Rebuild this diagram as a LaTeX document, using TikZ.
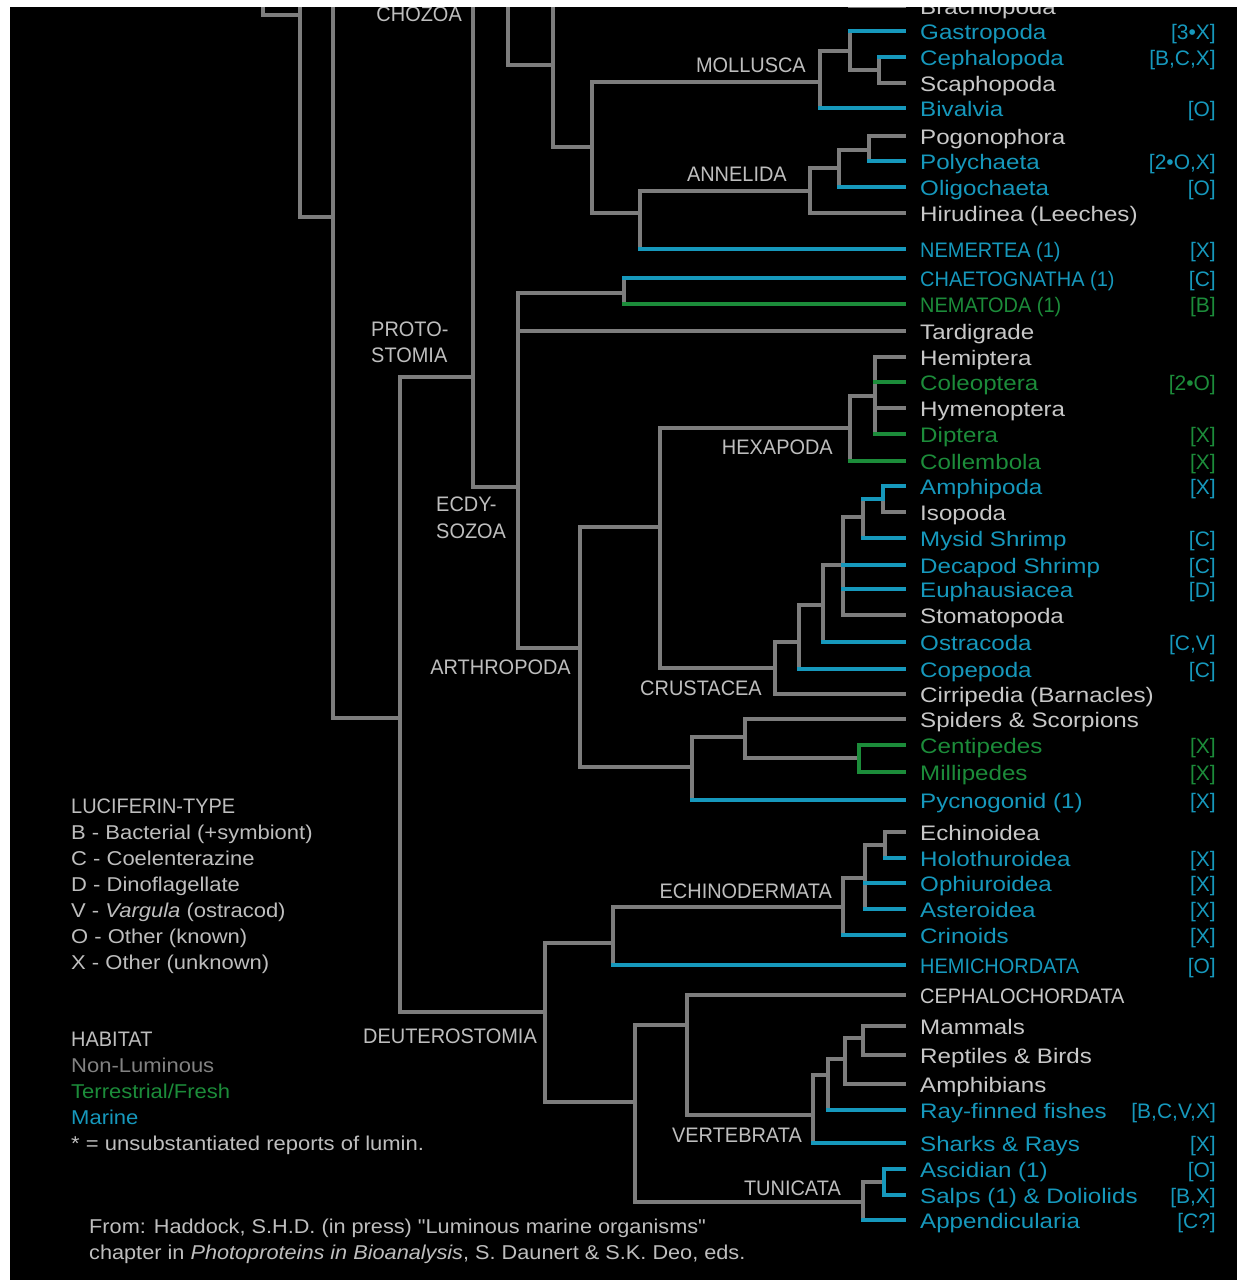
\documentclass[tikz,border=0pt]{standalone}
\usepackage{fontspec}
\setmainfont{Liberation Sans}
\newfontfamily\leaffam[FakeStretch=1.15]{Liberation Sans}
\newfontfamily\capfam[FakeStretch=0.95]{Liberation Sans}
\newfontfamily\legfam[FakeStretch=1.1]{Liberation Sans}
\newfontfamily\footfam[FakeStretch=1.085]{Liberation Sans}
\definecolor{linegray}{RGB}{125,125,125}
\definecolor{textgray}{RGB}{200,200,200}
\definecolor{cladegray}{RGB}{190,190,190}
\definecolor{marine}{RGB}{22,152,188}
\definecolor{fresh}{RGB}{28,140,58}
\definecolor{dimgray}{RGB}{130,130,130}
\newcommand\leaftxt{\leaffam\fontsize{21}{25}\selectfont}
\newcommand\captxt{\capfam\fontsize{21}{25}\selectfont}
\newcommand\legtxt{\legfam\fontsize{20}{24}\selectfont}
\newcommand\foottxt{\footfam\fontsize{20}{24}\selectfont}
\newcommand\brtxt{\rmfamily\fontsize{21}{25}\selectfont}
\tikzset{
 branch/.style={draw=linegray, line width=3.6pt, line cap=rect},
 lnG/.style={draw=linegray}, lnC/.style={draw=marine}, lnN/.style={draw=fresh},
 txG/.style={text=textgray}, txC/.style={text=marine}, txN/.style={text=fresh},
 leaflabel/.style={inner sep=0pt, anchor=base west, font=\leaftxt},
 tagtext/.style={inner sep=0pt, anchor=base east, font=\brtxt},
 clade/.style={inner sep=0pt, anchor=base east, font=\captxt, text=cladegray},
 cladew/.style={inner sep=0pt, anchor=base west, font=\captxt, text=cladegray},
 legend/.style={inner sep=0pt, anchor=base west, font=\legtxt, text=cladegray},
}
% #1 name, #2 y, #3 start x, #4 colour code, #5 text, #6 tag
\newcommand\leaf[6]{%
 \coordinate (#1s) at (#3,#2);
 \coordinate (#1e) at (904,#2);
 \draw[branch,ln#4] (#1s) -- (#1e);
 \node[leaflabel,tx#4] (#1) at (920,#2+8) {#5};
 \if\relax\detokenize{#6}\relax\else
 \node[tagtext,tx#4] (#1t) at (1216,#2+8) {#6};
 \fi
}
\begin{document}
\begin{tikzpicture}[x=1pt,y=-1pt]
\useasboundingbox (0,0) rectangle (1240,1282);
\fill[white] (0,0) rectangle (1240,1282);
\fill[black] (9.5,7) rectangle (1237,1280);
\begin{scope}
\clip (9.5,7) rectangle (1237,1280);
% ---------- internal branches
\draw[branch] (263,-10) |- (300,15);
\draw[branch] (300,-10) |- (333,217);
\draw[branch] (333,-10) |- (400,718);
\draw[branch] (473,-10) |- (518,487);
\draw[branch] (473,377) -| (400,1012) -- (545,1012);
\draw[branch] (508,-10) |- (553,65);
\draw[branch] (553,-10) |- (592,147);
% Mollusca
\draw[branch] (640,213) -| (592,82) -- (820,82);
\draw[branch] (820,51) -- (820,108);
\draw[branch] (820,51) -- (850,51);
\draw[branch] (850,31) -- (850,70) -- (879,70);
\draw[branch] (879,57) -- (879,83);
% Annelida
\draw[branch] (640,249) -- (640,191) -- (810,191);
\draw[branch] (810,168) -- (810,213);
\draw[branch] (810,168) -- (839,168);
\draw[branch] (839,150) -- (839,187);
\draw[branch] (839,150) -- (869,150);
\draw[branch] (869,136) -- (869,161);
% Ecdysozoa
\draw[branch] (624,293) -- (518,293) -- (518,648) -- (580,648);
\draw[branch] (624,278) -- (624,304);
\draw[branch] (660,527) -| (580,767) -- (692,767);
\draw[branch] (850,428) -| (660,668) -- (775,668);
% Hexapoda
\draw[branch] (850,396) -- (850,461);
\draw[branch] (850,396) -- (875,396);
\draw[branch] (875,357) -- (875,434);
% Crustacea
\draw[branch] (775,642) -- (775,694);
\draw[branch] (775,642) -- (799,642);
\draw[branch] (799,605) -- (799,669);
\draw[branch] (799,605) -- (823,605);
\draw[branch] (823,565) -- (823,642);
\draw[branch] (823,565) -- (843,565);
\draw[branch] (843,517) -- (843,615);
\draw[branch] (843,517) -- (863,517);
\draw[branch] (863,499) -- (863,538);
\draw[branch] (883,486) -- (883,512);
\draw[branch,lnC] (863,499) -- (883,499) -- (883,486);
% Chelicerata / Myriapoda
\draw[branch] (692,737) -- (692,800);
\draw[branch] (692,737) -- (745,737);
\draw[branch] (745,719) -- (745,758) -- (859,758);
\draw[branch,lnN] (859,745) -- (859,772);
% Deuterostomia
\draw[branch] (613,943) -| (545,1102) -- (635,1102);
\draw[branch] (613,907) -- (613,965);
\draw[branch] (613,907) -- (843,907);
\draw[branch] (843,878) -- (843,935);
\draw[branch] (843,878) -- (865,878);
\draw[branch] (865,845) -- (865,909);
\draw[branch] (865,845) -- (885,845);
\draw[branch] (885,832) -- (885,858);
% Chordata
\draw[branch] (635,1025) -- (635,1202) -- (863,1202);
\draw[branch] (635,1025) -- (687,1025);
\draw[branch] (687,995) -- (687,1115) -- (813,1115);
\draw[branch] (813,1075) -- (813,1143);
\draw[branch] (813,1075) -- (828,1075);
\draw[branch] (828,1059) -- (828,1110);
\draw[branch] (828,1059) -- (845,1059);
\draw[branch] (845,1038) -- (845,1084);
\draw[branch] (845,1038) -- (863,1038);
\draw[branch] (863,1026) -- (863,1055);
\draw[branch] (863,1182) -- (863,1220);
\draw[branch] (863,1182) -- (884,1182);
\draw[branch,lnC] (884,1169) -- (884,1195);
% ---------- leaves
\leaf{Bra}{6}{850}{G}{Brachiopoda}{}
\leaf{Gas}{31}{850}{C}{Gastropoda}{[3•X]}
\leaf{Cep}{57}{879}{C}{Cephalopoda}{[B,C,X]}
\leaf{Sca}{83}{879}{G}{Scaphopoda}{}
\leaf{Biv}{108}{820}{C}{Bivalvia}{[O]}
\leaf{Pog}{136}{869}{G}{Pogonophora}{}
\leaf{Pol}{161}{869}{C}{Polychaeta}{[2•O,X]}
\leaf{Oli}{187}{839}{C}{Oligochaeta}{[O]}
\leaf{Hir}{213}{810}{G}{Hirudinea (Leeches)}{}
\leaf{Nem}{249}{640}{C}{\captxt NEMERTEA (1)}{[X]}
\leaf{Cha}{278}{624}{C}{\captxt CHAETOGNATHA (1)}{[C]}
\leaf{Nat}{304}{624}{N}{\captxt NEMATODA (1)}{[B]}
\leaf{Tar}{331}{518}{G}{Tardigrade}{}
\leaf{Hem}{357}{875}{G}{Hemiptera}{}
\leaf{Col}{382}{875}{N}{Coleoptera}{[2•O]}
\leaf{Hym}{408}{875}{G}{Hymenoptera}{}
\leaf{Dip}{434}{875}{N}{Diptera}{[X]}
\leaf{Clb}{461}{850}{N}{Collembola}{[X]}
\leaf{Amp}{486}{883}{C}{Amphipoda}{[X]}
\leaf{Iso}{512}{883}{G}{Isopoda}{}
\leaf{Mys}{538}{863}{C}{Mysid Shrimp}{[C]}
\leaf{Dec}{565}{843}{C}{Decapod Shrimp}{[C]}
\leaf{Eup}{589}{843}{C}{Euphausiacea}{[D]}
\leaf{Sto}{615}{843}{G}{Stomatopoda}{}
\leaf{Ost}{642}{823}{C}{Ostracoda}{[C,V]}
\leaf{Cop}{669}{799}{C}{Copepoda}{[C]}
\leaf{Cir}{694}{775}{G}{Cirripedia (Barnacles)}{}
\leaf{Spi}{719}{745}{G}{Spiders \& Scorpions}{}
\leaf{Cen}{745}{859}{N}{Centipedes}{[X]}
\leaf{Mil}{772}{859}{N}{Millipedes}{[X]}
\leaf{Pyc}{800}{692}{C}{Pycnogonid (1)}{[X]}
\leaf{Ech}{832}{885}{G}{Echinoidea}{}
\leaf{Hol}{858}{885}{C}{Holothuroidea}{[X]}
\leaf{Oph}{883}{865}{C}{Ophiuroidea}{[X]}
\leaf{Ast}{909}{865}{C}{Asteroidea}{[X]}
\leaf{Cri}{935}{843}{C}{Crinoids}{[X]}
\leaf{Hmc}{965}{613}{C}{\captxt HEMICHORDATA}{[O]}
\leaf{Cph}{995}{687}{G}{\captxt CEPHALOCHORDATA}{}
\leaf{Mam}{1026}{863}{G}{Mammals}{}
\leaf{Rep}{1055}{863}{G}{Reptiles \& Birds}{}
\leaf{Amb}{1084}{845}{G}{Amphibians}{}
\leaf{Ray}{1110}{828}{C}{Ray-finned fishes}{[B,C,V,X]}
\leaf{Sha}{1143}{813}{C}{Sharks \& Rays}{[X]}
\leaf{Asc}{1169}{884}{C}{Ascidian (1)}{[O]}
\leaf{Sal}{1195}{884}{C}{Salps (1) \& Doliolids}{[B,X]}
\leaf{App}{1220}{863}{C}{Appendicularia}{[C?]}
% ---------- clade labels
\node[clade] (lCho) at (462,21) {CHOZOA};
\node[clade] (lMol) at (806,72) {MOLLUSCA};
\node[clade] (lAnn) at (787,181) {ANNELIDA};
\node[cladew] (lPro1) at (371,336) {PROTO-};
\node[cladew] (lPro2) at (371,362) {STOMIA};
\node[cladew] (lEcd1) at (436,511) {ECDY-};
\node[cladew] (lEcd2) at (436,538) {SOZOA};
\node[clade] (lHex) at (833,454) {HEXAPODA};
\node[clade] (lArt) at (571,674) {ARTHROPODA};
\node[clade] (lCru) at (762,695) {CRUSTACEA};
\node[clade] (lEcn) at (832,898) {ECHINODERMATA};
\node[clade] (lDeu) at (537,1043) {DEUTEROSTOMIA};
\node[clade] (lVer) at (802,1142) {VERTEBRATA};
\node[clade] (lTun) at (841,1195) {TUNICATA};
% ---------- legend
\node[legend,font=\captxt] (g0) at (71,813) {LUCIFERIN-TYPE};
\node[legend] (g1) at (71,839) {B - Bacterial (+symbiont)};
\node[legend] (g2) at (71,865) {C - Coelenterazine};
\node[legend] (g3) at (71,891) {D - Dinoflagellate};
\node[legend] (g4) at (71,917) {V - \textit{Vargula} (ostracod)};
\node[legend] (g5) at (71,943) {O - Other (known)};
\node[legend] (g6) at (71,969) {X - Other (unknown)};
\node[legend,font=\captxt] (h0) at (71,1046) {HABITAT};
\node[legend,text=dimgray] (h1) at (71,1072) {Non-Luminous};
\node[legend,text=fresh] (h2) at (71,1098) {Terrestrial/Fresh};
\node[legend,text=marine] (h3) at (71,1124) {Marine};
\node[legend] (h4) at (71,1150) {* = unsubstantiated reports of lumin.};
\node[legend,font=\foottxt] (f1) at (89,1233) {From: Haddock, S.H.D. (in press) "Luminous marine organisms"};
\node[legend,font=\foottxt] (f2) at (89,1259) {chapter in \textit{Photoproteins in Bioanalysis}, S. Daunert \& S.K. Deo, eds.};
\end{scope}
\end{tikzpicture}
\end{document}
